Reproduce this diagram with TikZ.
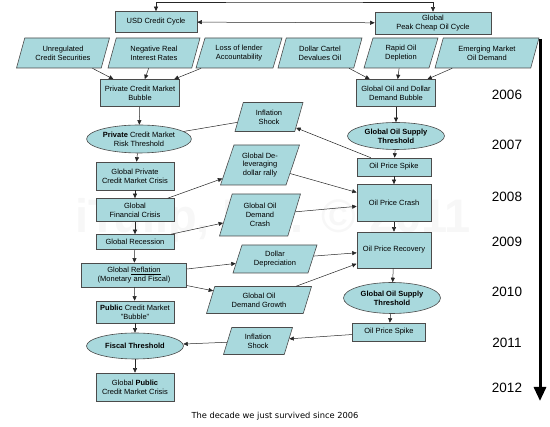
\documentclass[tikz,border=0pt]{standalone}
\usepackage{fontspec}
\setmainfont{Liberation Sans}
\newfontfamily\capfont{DejaVu Sans}
\usetikzlibrary{arrows.meta,shapes.geometric}
\definecolor{boxfill}{RGB}{169,217,221}
\definecolor{boxline}{RGB}{75,75,75}
\tikzset{>={Triangle[length=4.5pt,width=4pt]},
  box/.style={draw=boxline, fill=boxfill, line width=0.6pt, align=center, inner sep=1pt, font=\fontsize{7.5}{8.7}\selectfont},
  oval/.style={box, ellipse},
  para/.style={box, trapezium, trapezium left angle=63, trapezium right angle=117, trapezium stretches body},
  yr/.style={font=\fontsize{13.5}{15}\selectfont},
  lnk/.style={draw=black!85, line width=0.5pt}}

\begin{document}
\begin{tikzpicture}[x=1pt, y=-1pt]
  \useasboundingbox (0,0) rectangle (550,427);
  \node[text=black!3, font=\bfseries\fontsize{47}{50}\selectfont] (mark) at (273,220) {iTulip, Inc. © 2011};
  \node[box, minimum width=82, minimum height=21] (usd) at (156,22) {USD Credit Cycle};
  \node[box, minimum width=116, minimum height=22] (oil) at (433,23) {Global\\Peak Cheap Oil Cycle};
  \node[para, minimum width=93, minimum height=30] (unreg) at (63,53) {Unregulated\\Credit Securities};
  \node[para, minimum width=92, minimum height=30] (negrate) at (154,53) {Negative Real\\Interest Rates};
  \node[para, minimum width=86, minimum height=30] (lender) at (239,53) {Loss of lender\\Accountability};
  \node[para, minimum width=84, minimum height=30] (cartel) at (320,53) {Dollar Cartel\\Devalues Oil};
  \node[para, minimum width=74, minimum height=30] (deplete) at (401,53) {Rapid Oil\\Depletion};
  \node[para, minimum width=104, minimum height=30] (emerge) at (487,53) {Emerging Market\\Oil Demand};
  \node[box, minimum width=79, minimum height=27] (pcmb) at (140,93) {Private Credit Market\\Bubble};
  \node[box, minimum width=79, minimum height=27] (oilbub) at (396,93) {Global Oil and Dollar\\Demand Bubble};
  \node[oval, minimum width=97, minimum height=28] (pcmrisk) at (139,139) {\textbf{Private} Credit Market\\Risk Threshold};
  \node[oval, minimum width=97, minimum height=27, font=\bfseries\fontsize{7.5}{8.7}\selectfont] (oilthr) at (396,136) {Global Oil Supply\\Threshold};
  \node[para, minimum width=68, minimum height=29] (infl) at (269,117) {Inflation\\Shock};
  \node[para, minimum width=79, minimum height=40] (delev) at (260,165) {Global De-\\leveraging\\dollar rally};
  \node[para, minimum width=81, minimum height=42] (crash) at (260,215) {Global Oil\\Demand\\Crash};
  \node[para, minimum width=84, minimum height=28] (ddep) at (275,259) {Dollar\\Depreciation};
  \node[para, minimum width=105, minimum height=27] (growth) at (259,300) {Global Oil\\Demand Growth};
  \node[para, minimum width=69, minimum height=27] (infl2) at (258,341) {Inflation\\Shock};
  \node[box, minimum width=78, minimum height=28] (gpcmc) at (135,176) {Global Private\\Credit Market Crisis};
  \node[box, minimum width=78, minimum height=23] (gfc) at (135,210) {Global\\Financial Crisis};
  \node[box, minimum width=78, minimum height=15] (grec) at (135,242) {Global Recession};
  \node[box, minimum width=105, minimum height=24] (grefl) at (134,275) {Global \underline{Reflation}\\(Monetary and Fiscal)};
  \node[box, minimum width=78, minimum height=22] (pubbub) at (135,312) {\textbf{Public} Credit Market\\"Bubble"};
  \node[oval, minimum width=97, minimum height=26, font=\bfseries\fontsize{7.5}{8.7}\selectfont] (fisc) at (135,346) {Fiscal Threshold};
  \node[box, minimum width=78, minimum height=28] (gpub) at (135,387) {Global \textbf{Public}\\Credit Market Crisis};
  \node[box, minimum width=74, minimum height=18] (spike) at (394,167) {Oil Price Spike};
  \node[box, minimum width=74, minimum height=37] (pcrash) at (394,203) {Oil Price Crash};
  \node[box, minimum width=74, minimum height=36] (precov) at (394,250) {Oil Price Recovery};
  \node[oval, minimum width=97, minimum height=31, font=\bfseries\fontsize{7.5}{8.7}\selectfont] (oilthr2) at (392,298) {Global Oil Supply\\Threshold};
  \node[box, minimum width=73, minimum height=18] (spike2) at (389,332) {Oil Price Spike};
  \node[yr] (y06) at (507,95) {2006};
  \node[yr] (y07) at (507,145) {2007};
  \node[yr] (y08) at (507,197) {2008};
  \node[yr] (y09) at (507,242) {2009};
  \node[yr] (y10) at (507,292) {2010};
  \node[yr] (y11) at (507,343) {2011};
  \node[yr] (y12) at (507,388) {2012};
  \coordinate (tstart) at (540,39);
  \coordinate (tend) at (540,401);
  \draw[line width=3pt, -{Triangle[length=14pt,width=12pt]}] (tstart) -- (tend);
  \node[font=\capfont\fontsize{8.3}{10}\selectfont] (cap) at (275,416) {The decade we just survived since 2006};
  \coordinate (cyc) at (294,2);
  \draw[lnk, <->] (usd.north) |- (cyc) -| (oil.north);
  \draw[lnk, <->] (usd) -- (oil);
  \draw[lnk, ->] (unreg) -- (pcmb);
  \draw[lnk, ->] (negrate) -- (pcmb);
  \draw[lnk, ->] (lender) -- (pcmb);
  \draw[lnk, ->] (cartel) -- (oilbub);
  \draw[lnk, ->] (deplete) -- (oilbub);
  \draw[lnk, ->] (emerge) -- (oilbub);
  \draw[lnk, ->] (pcmb) -- (pcmrisk);
  \draw[lnk, ->] (oilbub) -- (oilthr);
  \draw[lnk] (pcmrisk) -- (infl);
  \draw[lnk, ->] (pcmrisk) -- (gpcmc);
  \draw[lnk, ->] (gpcmc) -- (gfc);
  \draw[lnk, ->] (gfc) -- (grec);
  \draw[lnk, ->] (grec) -- (grefl);
  \draw[lnk, ->] (grefl) -- (pubbub);
  \draw[lnk, ->] (pubbub) -- (fisc);
  \draw[lnk, ->] (fisc) -- (gpub);
  \draw[lnk, ->] (oilthr) -- (spike);
  \draw[lnk, ->] (spike) -- (pcrash);
  \draw[lnk, ->] (pcrash) -- (precov);
  \draw[lnk, ->] (precov) -- (oilthr2);
  \draw[lnk, ->] (oilthr2) -- (spike2);
  \draw[lnk, ->] (spike) -- (infl);
  \draw[lnk, ->] (gfc) -- (delev);
  \draw[lnk, ->] (delev) -- (pcrash);
  \draw[lnk, ->] (grec) -- (crash);
  \draw[lnk, ->] (crash) -- (pcrash);
  \draw[lnk, ->] (grefl) -- (ddep);
  \draw[lnk, ->] (grefl) -- (growth);
  \draw[lnk, ->] (ddep) -- (precov);
  \draw[lnk, ->] (growth) -- (precov);
  \draw[lnk, ->] (spike2) -- (infl2);
  \draw[lnk, ->] (infl2) -- (fisc);
\end{tikzpicture}
\end{document}
